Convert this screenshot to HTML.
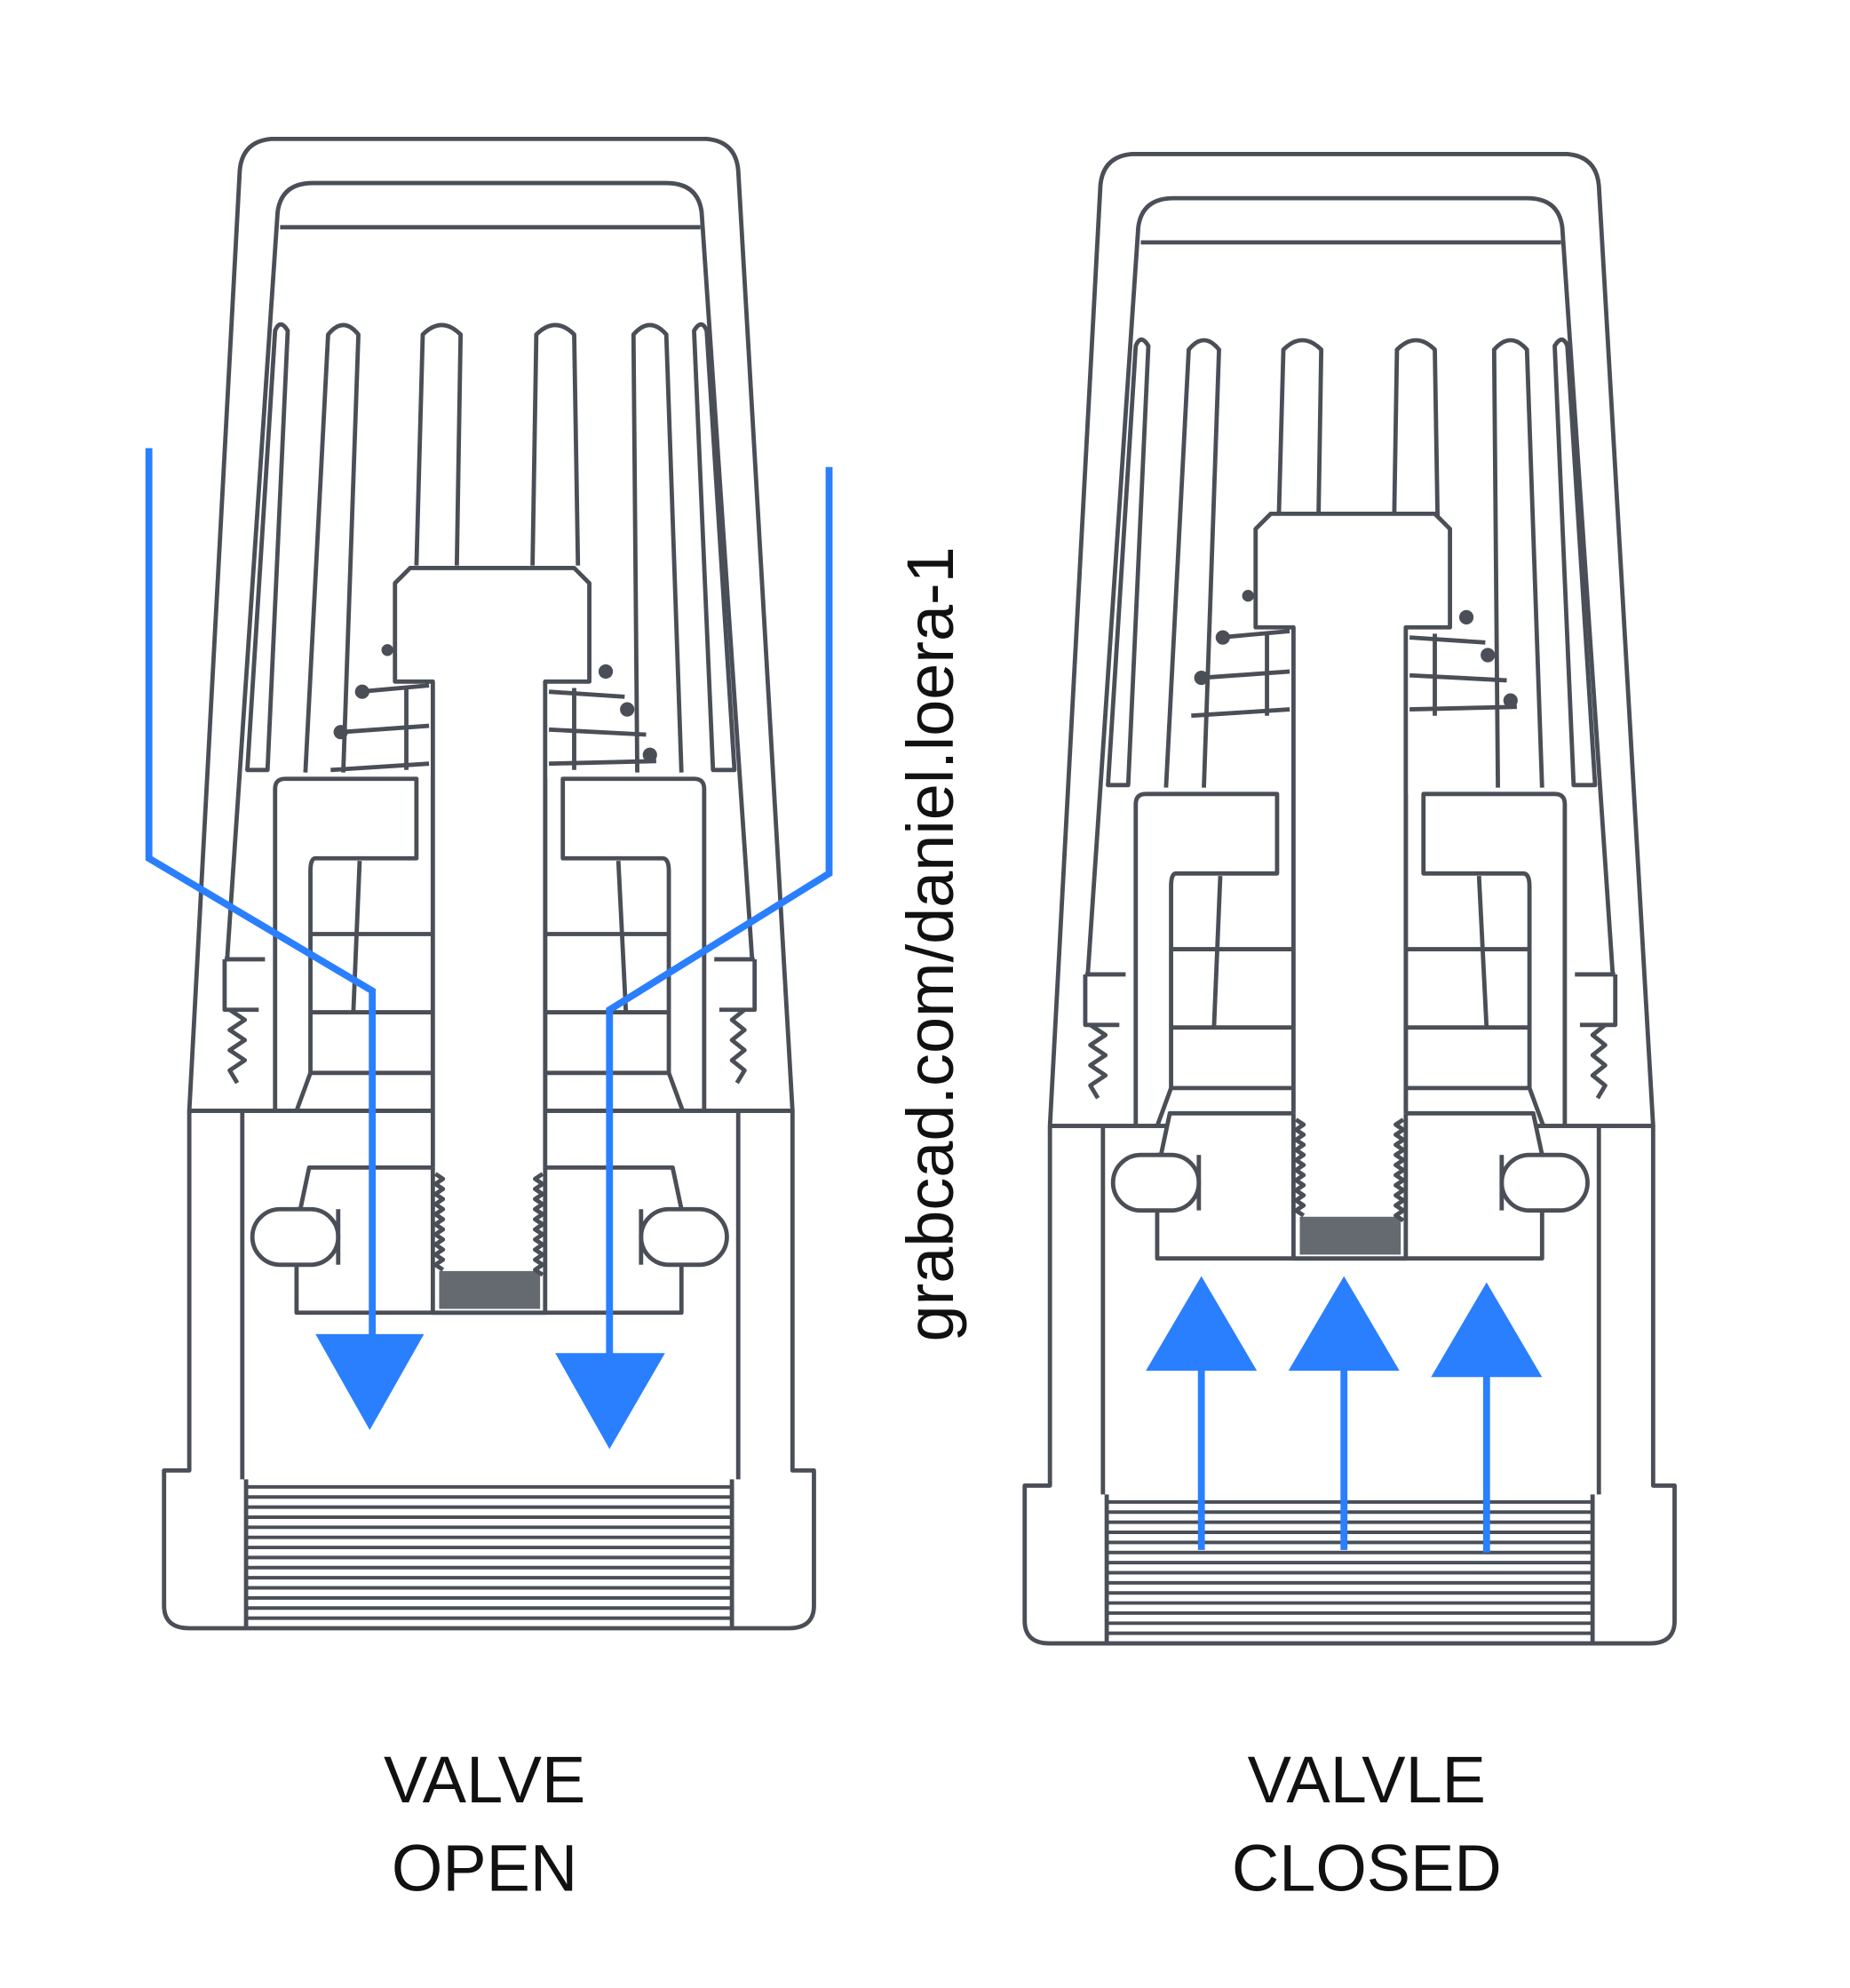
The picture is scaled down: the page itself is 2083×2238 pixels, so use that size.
<!DOCTYPE html>
<html><head><meta charset="utf-8"><style>
html,body{margin:0;padding:0;background:#fff;}
svg{display:block;}
text{font-family:"Liberation Sans",sans-serif;fill:#111;}
</style></head><body>
<svg width="2083" height="2238" viewBox="0 0 1466 1575" xmlns="http://www.w3.org/2000/svg">
<defs>
<g id="body" fill="none" stroke="#4a4f57" stroke-width="3.4" stroke-linejoin="round">
  <path d="M150,880 L190,135 Q192,112 215,110 L560,110 Q583,112 585,135 L628,880"/>
  <path d="M180,760 L220,168 Q223,145 248,145 L528,145 Q553,145 556,168 L596,760"/>
  <line x1="222" y1="180" x2="555" y2="180"/>
  <path d="M196,610 L218,262 Q222,252 228,262 L212,610 Z"/>
  <path d="M242,612 L260,265 Q272,250 284,265 L272,612"/>
  <path d="M330,448 L335,265 Q350,250 365,265 L362,448"/>
  <path d="M422,448 L425,265 Q440,250 455,265 L458,448"/>
  <path d="M505,612 L502,265 Q515,250 528,265 L540,612"/>
  <path d="M565,610 L550,262 Q556,252 560,262 L582,610 Z"/>
  <path d="M218,880 L218,625 Q218,617 226,617 L330,617 L330,680 L250,680 Q246,680 246,690 L246,850 L235,880"/>
  <path d="M558,880 L558,625 Q558,617 550,617 L446,617 L446,680 L525,680 Q530,680 530,690 L530,850 L541,880"/>
  <line x1="285" y1="682" x2="280" y2="802"/><line x1="490" y1="682" x2="496" y2="802"/>
  <line x1="246" y1="740" x2="343" y2="740"/><line x1="432" y1="740" x2="530" y2="740"/>
  <line x1="246" y1="802" x2="343" y2="802"/><line x1="432" y1="802" x2="530" y2="802"/>
  <line x1="246" y1="850" x2="343" y2="850"/><line x1="432" y1="850" x2="530" y2="850"/>
  <line x1="343" y1="617" x2="343" y2="880"/><line x1="432" y1="617" x2="432" y2="880"/>
  <path d="M178,760 L210,760 M598,760 L566,760 M178,760 L178,800 L205,800 M598,760 L598,800 L570,800"/>
  <path d="M182,800 l12,8 l-12,8 l12,8 l-12,8 l12,8 l-12,8 l6,10"/>
  <path d="M590,800 l-10,8 l10,8 l-10,8 l10,8 l-10,8 l10,8 l-6,10"/>
  <path d="M150,880 L150,1165 L130,1165 L130,1272 Q130,1290 150,1290 L625,1290 Q645,1290 645,1272 L645,1165 L628,1165 L628,880 Z"/>
  <line x1="150" y1="880" x2="628" y2="880"/>
  <line x1="192" y1="880" x2="192" y2="1172"/><line x1="585" y1="880" x2="585" y2="1172"/>
  <path d="M195,1178H580M195,1186H580M195,1194H580M195,1202H580M195,1210H580M195,1218H580M195,1226H580M195,1234H580M195,1242H580M195,1250H580M195,1258H580M195,1266H580M195,1274H580M195,1282H580" stroke-width="2.8"/>
  <line x1="195" y1="1172" x2="195" y2="1290"/><line x1="580" y1="1172" x2="580" y2="1290"/>
</g>
<g id="move" fill="none" stroke="#4a4f57" stroke-width="3.4" stroke-linejoin="round">
  <path d="M313,540 L313,462 L325,450 L455,450 L467,462 L467,540 L432,540 L432,1040 L343,1040 L343,540 Z" fill="#fff"/>
  <path d="M285,548 L340,543 M270,580 L340,575 M262,610 L340,605 M435,548 L495,552 M435,578 L512,582 M435,605 L520,603"/>
  <circle cx="307" cy="515" r="3" fill="#4a4f57"/><circle cx="287" cy="548" r="4" fill="#4a4f57"/><circle cx="270" cy="580" r="4" fill="#4a4f57"/>
  <circle cx="480" cy="532" r="4" fill="#4a4f57"/><circle cx="497" cy="562" r="4" fill="#4a4f57"/><circle cx="515" cy="598" r="4" fill="#4a4f57"/>
  <line x1="322" y1="545" x2="322" y2="610"/><line x1="455" y1="545" x2="455" y2="610"/>
  <path d="M343,925 L245,925 L238,958 L235,958 L235,1040 L540,1040 L540,958 L533,925 L432,925" fill="#fff"/>
  <line x1="343" y1="925" x2="343" y2="1040"/><line x1="432" y1="925" x2="432" y2="1040"/>
  <rect x="200" y="958" width="68" height="44" rx="22" fill="#fff"/><line x1="268" y1="958" x2="268" y2="1002"/>
  <rect x="508" y="958" width="68" height="44" rx="22" fill="#fff"/><line x1="508" y1="958" x2="508" y2="1002"/>
  <path d="M345,930 l6,4 l-6,4 l6,4 l-6,4 l6,4 l-6,4 l6,4 l-6,4 l6,4 l-6,4 l6,4 l-6,4 l6,4 l-6,4 l6,4 l-6,4 l6,4 l-6,4 l6,4"/>
  <path d="M430,930 l-6,4 l6,4 l-6,4 l6,4 l-6,4 l6,4 l-6,4 l6,4 l-6,4 l6,4 l-6,4 l6,4 l-6,4 l6,4 l-6,4 l6,4 l-6,4 l6,4 l-6,4 l6,4"/>
  <rect x="348" y="1007" width="80" height="30" fill="#4a4f57" stroke="none" opacity="0.85"/>
</g>
</defs>
<use href="#body"/>
<use href="#move"/>
<use href="#body" transform="translate(682,12)"/>
<use href="#move" transform="translate(682,-43)"/>

<g fill="none" stroke="#2a7fff" stroke-width="5.5">
  <polyline points="118,355 118,680 295,785 295,1065"/>
  <polyline points="657,370 657,692 483,800 483,1080"/>
  <line x1="952" y1="1228" x2="952" y2="1080"/>
  <line x1="1065" y1="1228" x2="1065" y2="1080"/>
  <line x1="1178" y1="1230" x2="1178" y2="1085"/>
</g>
<g fill="#2a7fff">
  <polygon points="250,1057 336,1057 293,1133"/>
  <polygon points="440,1072 527,1072 483,1148"/>
  <polygon points="908,1086 996,1086 952,1011"/>
  <polygon points="1021,1086 1109,1086 1065,1011"/>
  <polygon points="1134,1091 1222,1091 1178,1016"/>
</g>

<text x="0" y="0" font-size="52" text-anchor="middle" transform="translate(755,748) rotate(-90)">grabcad.com/daniel.loera-1</text>
<text x="384" y="1428" font-size="52" text-anchor="middle">VALVE</text>
<text x="384" y="1498" font-size="52" text-anchor="middle">OPEN</text>
<text x="1083" y="1428" font-size="52" text-anchor="middle">VALVLE</text>
<text x="1083" y="1498" font-size="52" text-anchor="middle">CLOSED</text>
</svg>
</body></html>
